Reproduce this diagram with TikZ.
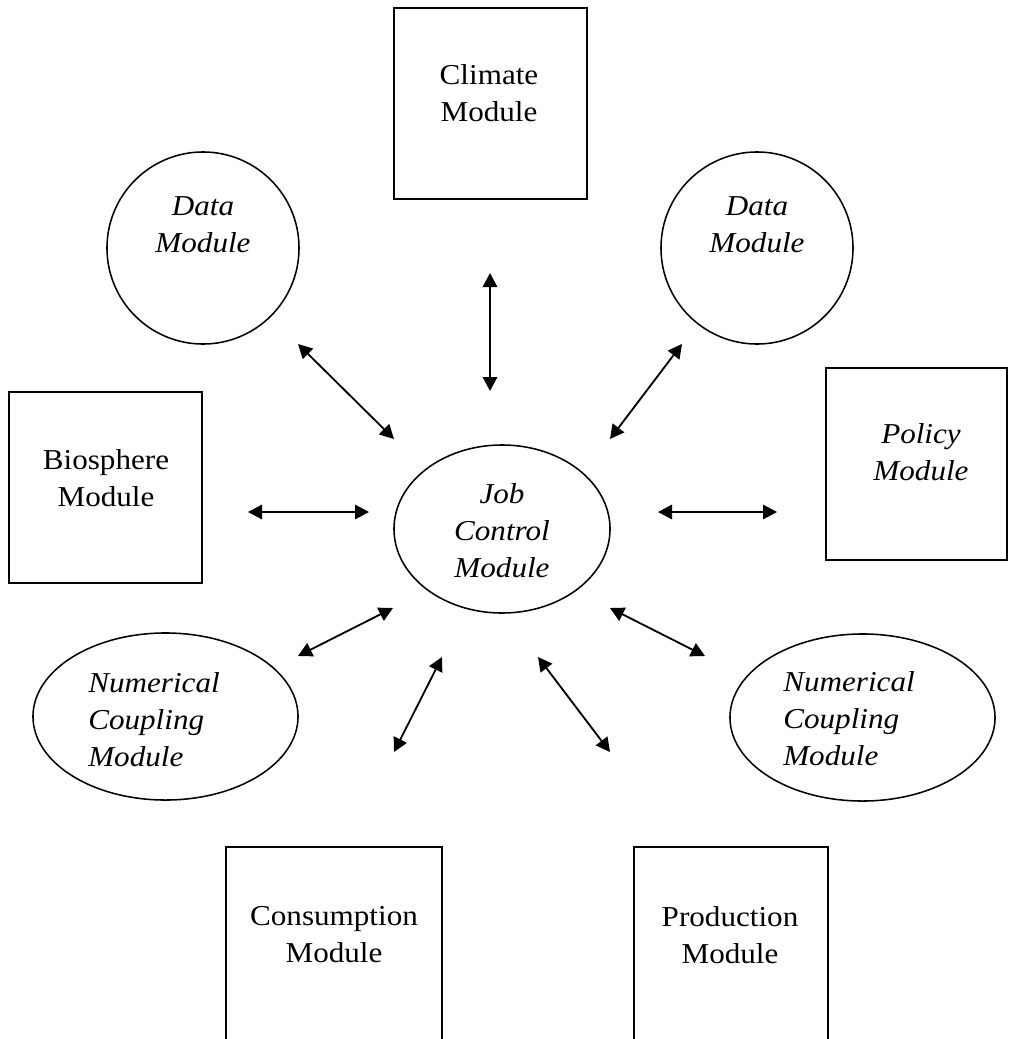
\documentclass[tikz,border=0pt]{standalone}
\usepackage{fontspec}
\setmainfont{Liberation Serif}[FakeStretch=1.08]
\usetikzlibrary{arrows.meta}
\usetikzlibrary{shapes.geometric}
\tikzset{
  modbox/.style={draw, line width=1.4pt, inner sep=0},
  modellipse/.style={draw, ellipse, line width=1.1pt, inner sep=0},
  modcircle/.style={draw, circle, line width=1.1pt, inner sep=0, minimum size=4.8cm},
  lbl/.style={align=center, inner sep=0, font=\fontsize{20.5}{26.3}\selectfont},
  ilbl/.style={lbl, font=\fontsize{20.5}{26.3}\selectfont\itshape},
  arrow/.style={<->, >={Triangle[length=3.5mm, width=3.6mm]}, line width=1.3pt}
}
\begin{document}
\begin{tikzpicture}[x=0.025cm, y=-0.025cm]
  \useasboundingbox (0,0) rectangle (1010,1039);

  % boxes
  \node (climate) [modbox, minimum width=4.825cm, minimum height=4.775cm] at (490.5,103.5) {};
  \node (bio) [modbox, minimum width=4.825cm, minimum height=4.775cm] at (105.5,487.5) {};
  \node (policy) [modbox, minimum width=4.525cm, minimum height=4.8cm] at (916.5,464) {};
  \node (cons) [modbox, minimum width=5.4cm, minimum height=5.075cm] at (334,948.5) {};
  \node (prod) [modbox, minimum width=4.85cm, minimum height=5.075cm] at (731,948.5) {};

  % circles and ellipses
  \node (datal) [modcircle] at (203,248) {};
  \node (datar) [modcircle] at (757,248) {};
  \node (jcm) [modellipse, minimum width=5.4cm, minimum height=4.2cm] at (502,529) {};
  \node (ncl) [modellipse, minimum width=6.625cm, minimum height=4.175cm] at (165.5,716.5) {};
  \node (ncr) [modellipse, minimum width=6.625cm, minimum height=4.175cm] at (862.5,717.5) {};

  % texts
  \node (climate-txt) [lbl] at (489,93) {Climate\\Module};
  \node (bio-txt) [lbl] at (106,478) {Biosphere\\Module};
  \node (policy-txt) [ilbl] at (921,452) {Policy\\Module};
  \node (cons-txt) [lbl] at (334,935) {Consumption\\Module};
  \node (prod-txt) [lbl] at (730,935) {Production\\Module};
  \node (datal-txt) [ilbl] at (203,225) {Data\\Module};
  \node (datar-txt) [ilbl] at (757,225) {Data\\Module};
  \node (jcm-txt) [ilbl] at (502,531) {Job\\Control\\Module};
  \node (ncl-txt) [ilbl, align=left] at (154,720) {Numerical\\Coupling\\Module};
  \node (ncr-txt) [ilbl, align=left] at (849,719) {Numerical\\Coupling\\Module};

  % arrow ends
  \coordinate (climate-s) at (490,273);
  \coordinate (jcm-n) at (490,391);
  \coordinate (datal-se) at (298,344);
  \coordinate (jcm-nw) at (394,439);
  \coordinate (datar-sw) at (682,344);
  \coordinate (jcm-ne) at (610,439);
  \coordinate (bio-e) at (248,512);
  \coordinate (jcm-w) at (369,512);
  \coordinate (jcm-e) at (658,512);
  \coordinate (policy-w) at (777,512);
  \coordinate (jcm-sw) at (393,608);
  \coordinate (ncl-ne) at (298,656);
  \coordinate (jcm-ssw) at (442,657);
  \coordinate (cons-n) at (394,752);
  \coordinate (jcm-sse) at (538,657);
  \coordinate (prod-n) at (610,752);
  \coordinate (jcm-se) at (610,608);
  \coordinate (ncr-nw) at (705,656);

  \draw [arrow] (climate-s) -- (jcm-n);
  \draw [arrow] (datal-se) -- (jcm-nw);
  \draw [arrow] (datar-sw) -- (jcm-ne);
  \draw [arrow] (bio-e) -- (jcm-w);
  \draw [arrow] (jcm-e) -- (policy-w);
  \draw [arrow] (jcm-sw) -- (ncl-ne);
  \draw [arrow] (jcm-ssw) -- (cons-n);
  \draw [arrow] (jcm-sse) -- (prod-n);
  \draw [arrow] (jcm-se) -- (ncr-nw);
\end{tikzpicture}
\end{document}
